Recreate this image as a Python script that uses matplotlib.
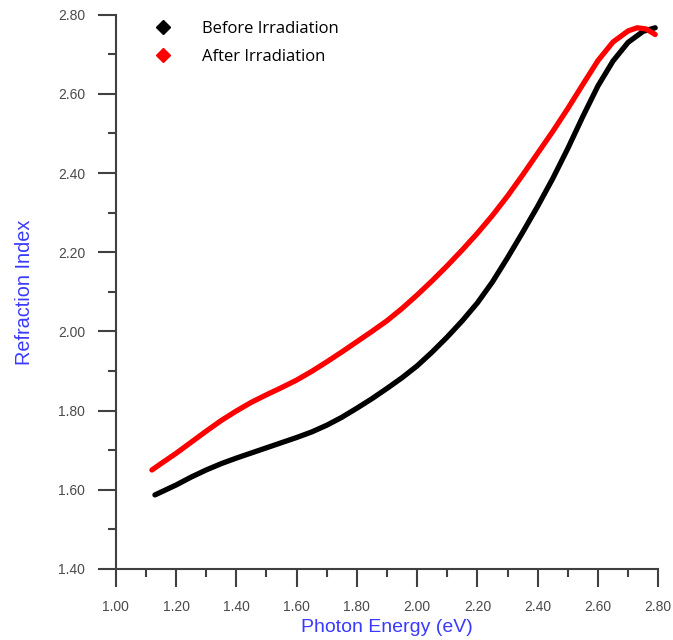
import matplotlib
matplotlib.use("Agg")
import matplotlib.pyplot as plt
from matplotlib.lines import Line2D
from matplotlib.ticker import MultipleLocator, FormatStrFormatter

# photon energy (eV) and refraction index
energy_before = [1.13, 1.20, 1.25, 1.30, 1.35, 1.40, 1.45, 1.50, 1.55, 1.60, 1.65, 1.70,
                 1.75, 1.80, 1.85, 1.90, 1.95, 2.00, 2.05, 2.10, 2.15, 2.20, 2.25, 2.30,
                 2.35, 2.40, 2.45, 2.50, 2.55, 2.60, 2.65, 2.70, 2.75, 2.79]
n_before = [1.587, 1.612, 1.632, 1.650, 1.666, 1.680, 1.693, 1.706, 1.719, 1.732, 1.746, 1.763,
            1.783, 1.806, 1.830, 1.856, 1.883, 1.913, 1.948, 1.986, 2.027, 2.072, 2.125, 2.186,
            2.250, 2.316, 2.386, 2.462, 2.543, 2.620, 2.683, 2.730, 2.758, 2.767]

energy_after = [1.12, 1.15, 1.20, 1.25, 1.30, 1.35, 1.40, 1.45, 1.50, 1.55, 1.60, 1.65,
                1.70, 1.75, 1.80, 1.85, 1.90, 1.95, 2.00, 2.05, 2.10, 2.15, 2.20, 2.25,
                2.30, 2.35, 2.40, 2.45, 2.50, 2.55, 2.60, 2.65, 2.70, 2.73, 2.76, 2.79]
n_after = [1.650, 1.666, 1.692, 1.720, 1.748, 1.775, 1.799, 1.821, 1.840, 1.858, 1.877, 1.899,
           1.923, 1.948, 1.974, 2.000, 2.027, 2.058, 2.092, 2.128, 2.166, 2.206, 2.248, 2.293,
           2.342, 2.395, 2.450, 2.505, 2.563, 2.624, 2.684, 2.731, 2.759, 2.767, 2.764, 2.750]

labels = ["Before Irradiation", "After Irradiation"]
colors = ["black", "red"]

fig = plt.figure(figsize=(6.73, 6.4), dpi=100)
ax = fig.add_axes([0.172, 0.111, 0.806, 0.866])

ax.plot(energy_before, n_before, color=colors[0], lw=3.8, solid_capstyle="round",
        solid_joinstyle="round")
ax.plot(energy_after, n_after, color=colors[1], lw=3.8, solid_capstyle="round",
        solid_joinstyle="round")

ax.set_xlim(1.0, 2.8)
ax.set_ylim(1.4, 2.8)
ax.xaxis.set_major_locator(MultipleLocator(0.2))
ax.xaxis.set_minor_locator(MultipleLocator(0.1))
ax.yaxis.set_major_locator(MultipleLocator(0.2))
ax.yaxis.set_minor_locator(MultipleLocator(0.1))
ax.xaxis.set_major_formatter(FormatStrFormatter("%.2f"))
ax.yaxis.set_major_formatter(FormatStrFormatter("%.2f"))

for s in ["top", "right"]:
    ax.spines[s].set_visible(False)
for s in ["left", "bottom"]:
    ax.spines[s].set_color("#404040")
    ax.spines[s].set_linewidth(1.5)

ax.tick_params(which="major", length=13, width=1.5, color="#404040",
               labelsize=10, labelcolor="#4a4a4a", pad=9)
ax.tick_params(which="minor", length=6, width=1.5, color="#404040")
for t in ax.get_xticklabels() + ax.get_yticklabels():
    t.set_fontfamily("Liberation Sans")

ax.set_xlabel("Photon Energy (eV)", color="#3a3aff", fontsize=14,
              fontfamily="Liberation Sans", labelpad=4)
ax.set_ylabel("Refraction Index", color="#3a3aff", fontsize=14.3,
              fontfamily="Liberation Sans", labelpad=17)

handles = [Line2D([], [], color=c, marker="D", linestyle="none", markersize=7) for c in colors]
ax.legend(handles, labels, loc="upper left", bbox_to_anchor=(0.045, 1.016), frameon=False,
          prop={"family": "Open Sans", "size": 12}, handletextpad=1.8,
          labelspacing=0.7, handlelength=1.0)

fig.savefig("out.png", dpi=100)
